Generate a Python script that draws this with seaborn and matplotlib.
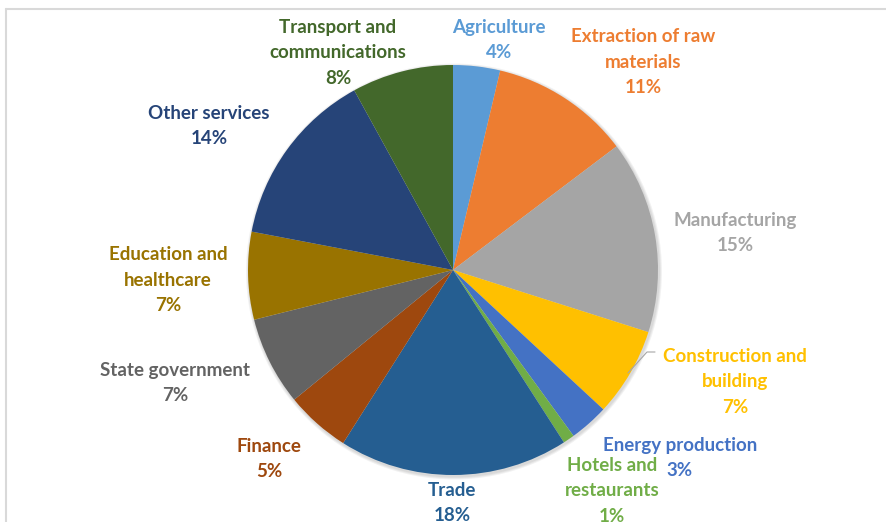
import matplotlib
matplotlib.use("Agg")
import matplotlib.pyplot as plt
import seaborn as sns
from matplotlib.patches import Circle
from matplotlib.lines import Line2D

# ---- data ----
categories = ["Agriculture", "Extraction of raw materials", "Manufacturing",
              "Construction and building", "Energy production",
              "Hotels and restaurants", "Trade", "Finance", "State government",
              "Education and healthcare", "Other services",
              "Transport and communications"]
label_text = ["Agriculture", "Extraction of raw\nmaterials", "Manufacturing",
              "Construction and\nbuilding", "Energy production",
              "Hotels and\nrestaurants", "Trade", "Finance", "State government",
              "Education and\nhealthcare", "Other services",
              "Transport and\ncommunications"]
shares = [3.7, 11.0, 15.2, 7.0, 3.1, 0.9, 18.1, 5.1, 7.0, 6.9, 14.0, 8.0]
colors = ["#5B9BD5", "#ED7D31", "#A5A5A5", "#FFC000", "#4472C4", "#70AD47",
          "#255E91", "#9E480E", "#636363", "#997300", "#264478", "#43682B"]

# ---- layout (pixel positions, from top-left) ----
W, H = 886, 522
center_px = (453, 270)
radius_px = 205
label_pos = [(499, 40), (643, 62), (735, 233), (735, 382), (680, 458),
             (612, 491), (452, 503), (269, 459), (175, 383), (168, 280),
             (209, 126), (338, 53)]

sns.set_theme(style="white")
plt.rcParams["font.family"] = ["Lato", "DejaVu Sans"]

fig = plt.figure(figsize=(W / 100, H / 100), dpi=100)
ax = fig.add_axes([0, 0, 1, 1])

# frame
fig.add_artist(Line2D([6 / W, 1], [1 - 9 / H, 1 - 9 / H], transform=fig.transFigure,
                      color="#D9D9D9", lw=1.5))
fig.add_artist(Line2D([6 / W, 6 / W], [0, 1 - 9 / H], transform=fig.transFigure,
                      color="#D9D9D9", lw=1.5))

cx, cy = center_px[0], H - center_px[1]
# soft shadow
for i, a in enumerate([0.05, 0.05, 0.05]):
    ax.add_patch(Circle((cx + 1, cy - 1.5), radius_px + 1 + i, color="black",
                        alpha=a, lw=0, zorder=0))

ax.pie(shares, colors=colors, startangle=90, counterclock=False,
       center=(cx, cy), radius=radius_px, frame=True,
       wedgeprops=dict(linewidth=0, edgecolor="none"))
ax.set_xlim(0, W)
ax.set_ylim(0, H)
ax.set_aspect("equal")
ax.axis("off")

# leader line for Construction label
ax.plot([628, 647, 655], [H - 373, H - 352, H - 352], color="#A6A6A6", lw=0.8)

for txt, v, col, (x, y) in zip(label_text, shares, colors, label_pos):
    ax.text(x, H - y, f"{txt}\n{round(v):.0f}%", ha="center", va="center",
            color=col, fontsize=13.5, fontweight="bold", linespacing=1.6,
            multialignment="center")

fig.savefig("out.png", dpi=100)
